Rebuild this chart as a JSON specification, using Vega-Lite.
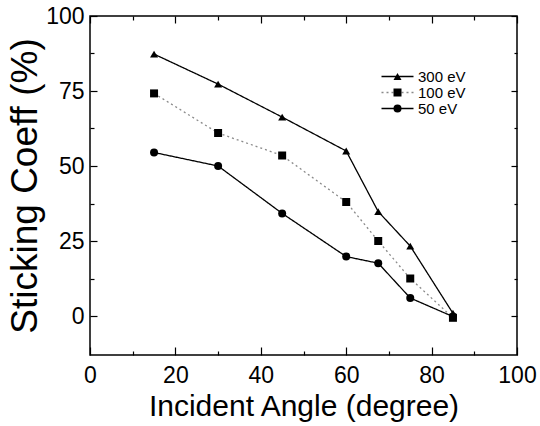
{
  "$schema": "https://vega.github.io/schema/vega-lite/v6.json",
  "width": 427,
  "height": 339,
  "autosize": "none",
  "padding": {"left": 90, "top": 16, "right": 23, "bottom": 71},
  "background": "white",
  "config": {
    "view": {"stroke": "black", "strokeWidth": 1.5},
    "font": "Liberation Sans",
    "axis": {"domain": false, "grid": false, "tickColor": "black", "labelColor": "black", "titleColor": "black", "labelFont": "Liberation Sans", "titleFont": "Liberation Sans", "titleFontWeight": "normal", "tickWidth": 1.2}
  },
  "data": {"values": [
    {"series": "300 eV", "angle": 15, "coeff": 87.3},
    {"series": "300 eV", "angle": 30, "coeff": 77.3},
    {"series": "300 eV", "angle": 45, "coeff": 66.3},
    {"series": "300 eV", "angle": 60, "coeff": 55},
    {"series": "300 eV", "angle": 67.5, "coeff": 34.8},
    {"series": "300 eV", "angle": 75, "coeff": 23.3},
    {"series": "300 eV", "angle": 85, "coeff": 0.9},
    {"series": "100 eV", "angle": 15, "coeff": 74.2},
    {"series": "100 eV", "angle": 30, "coeff": 61},
    {"series": "100 eV", "angle": 45, "coeff": 53.5},
    {"series": "100 eV", "angle": 60, "coeff": 38},
    {"series": "100 eV", "angle": 67.5, "coeff": 25},
    {"series": "100 eV", "angle": 75, "coeff": 12.5},
    {"series": "100 eV", "angle": 85, "coeff": -0.6},
    {"series": "50 eV", "angle": 15, "coeff": 54.5},
    {"series": "50 eV", "angle": 30, "coeff": 50},
    {"series": "50 eV", "angle": 45, "coeff": 34.2},
    {"series": "50 eV", "angle": 60, "coeff": 19.8},
    {"series": "50 eV", "angle": 67.5, "coeff": 17.6},
    {"series": "50 eV", "angle": 75, "coeff": 6},
    {"series": "50 eV", "angle": 85, "coeff": -0.2}
  ]},
  "layer": [
    {
      "mark": {"type": "line", "strokeWidth": 1.3},
      "encoding": {
        "x": {"field": "angle", "type": "quantitative", "scale": {"domain": [0, 100], "nice": false, "zero": false},
          "axis": {"orient": "bottom", "values": [0, 10, 20, 30, 40, 50, 60, 70, 80, 90, 100],
            "labelExpr": "datum.value % 20 === 0 ? datum.label : ''",
            "tickSize": {"condition": {"test": "datum.value % 20 === 0", "value": -8}, "value": -4},
            "labelPadding": 17, "labelFontSize": 23, "labelFlush": false,
            "title": "Incident Angle (degree)", "titleFontSize": 30, "titlePadding": 4}},
        "y": {"field": "coeff", "type": "quantitative", "scale": {"domain": [-13, 100], "nice": false, "zero": false},
          "axis": {"orient": "left", "values": [0, 12.5, 25, 37.5, 50, 62.5, 75, 87.5, 100],
            "labelExpr": "datum.value % 25 === 0 ? datum.label : ''",
            "tickSize": {"condition": {"test": "datum.value % 25 === 0", "value": -7}, "value": -4},
            "labelPadding": 13, "labelFontSize": 23, "labelFlush": false,
            "title": "Sticking Coeff (%)", "titleFontSize": 37, "titlePadding": 1}},
        "color": {"field": "series", "scale": {"domain": ["50 eV", "100 eV", "300 eV"], "range": ["black", "#8a8a8a", "black"]},
          "legend": {"orient": "none", "legendX": 300, "legendY": 53, "title": null, "padding": 0, "values": ["300 eV", "100 eV", "50 eV"],
            "symbolType": "M-4,0L4,0", "symbolSize": 64, "symbolStrokeWidth": 1.3, "labelFontSize": 15, "labelOffset": 13, "rowPadding": 0, "labelOpacity": 0}},
        "strokeDash": {"field": "series", "scale": {"domain": ["50 eV", "100 eV", "300 eV"], "range": [[1, 0], [2, 3], [1, 0]]},
          "legend": {"orient": "none", "legendX": 300, "legendY": 53, "title": null, "padding": 0, "values": ["300 eV", "100 eV", "50 eV"],
            "symbolType": "M-4,0L4,0", "symbolSize": 64, "symbolStrokeWidth": 1.3, "labelFontSize": 15, "labelOffset": 13, "rowPadding": 0, "labelOpacity": 0}}
      }
    },
    {
      "mark": {"type": "point", "filled": true, "opacity": 1, "color": "black", "size": 64},
      "encoding": {
        "x": {"field": "angle", "type": "quantitative",
          "axis": {"orient": "top", "values": [0, 10, 20, 30, 40, 50, 60, 70, 80, 90, 100], "labels": false, "title": null,
            "tickSize": {"condition": {"test": "datum.value % 20 === 0", "value": -7}, "value": -4}}},
        "y": {"field": "coeff", "type": "quantitative",
          "axis": {"orient": "right", "values": [0, 12.5, 25, 37.5, 50, 62.5, 75, 87.5, 100], "labels": false, "title": null,
            "tickSize": {"condition": {"test": "datum.value % 25 === 0", "value": -6}, "value": -3}}},
        "shape": {"field": "series", "scale": {"domain": ["300 eV", "100 eV", "50 eV"], "range": ["triangle-up", "square", "circle"]},
          "legend": {"orient": "none", "legendX": 300, "legendY": 53, "title": null, "padding": 0,
            "symbolSize": 64, "labelFont": "Liberation Sans", "labelFontSize": 15, "labelOffset": 13, "rowPadding": 0,
            "labelColor": "black"}}
      }
    }
  ],
  "resolve": {"axis": {"x": "independent", "y": "independent"}}
}
